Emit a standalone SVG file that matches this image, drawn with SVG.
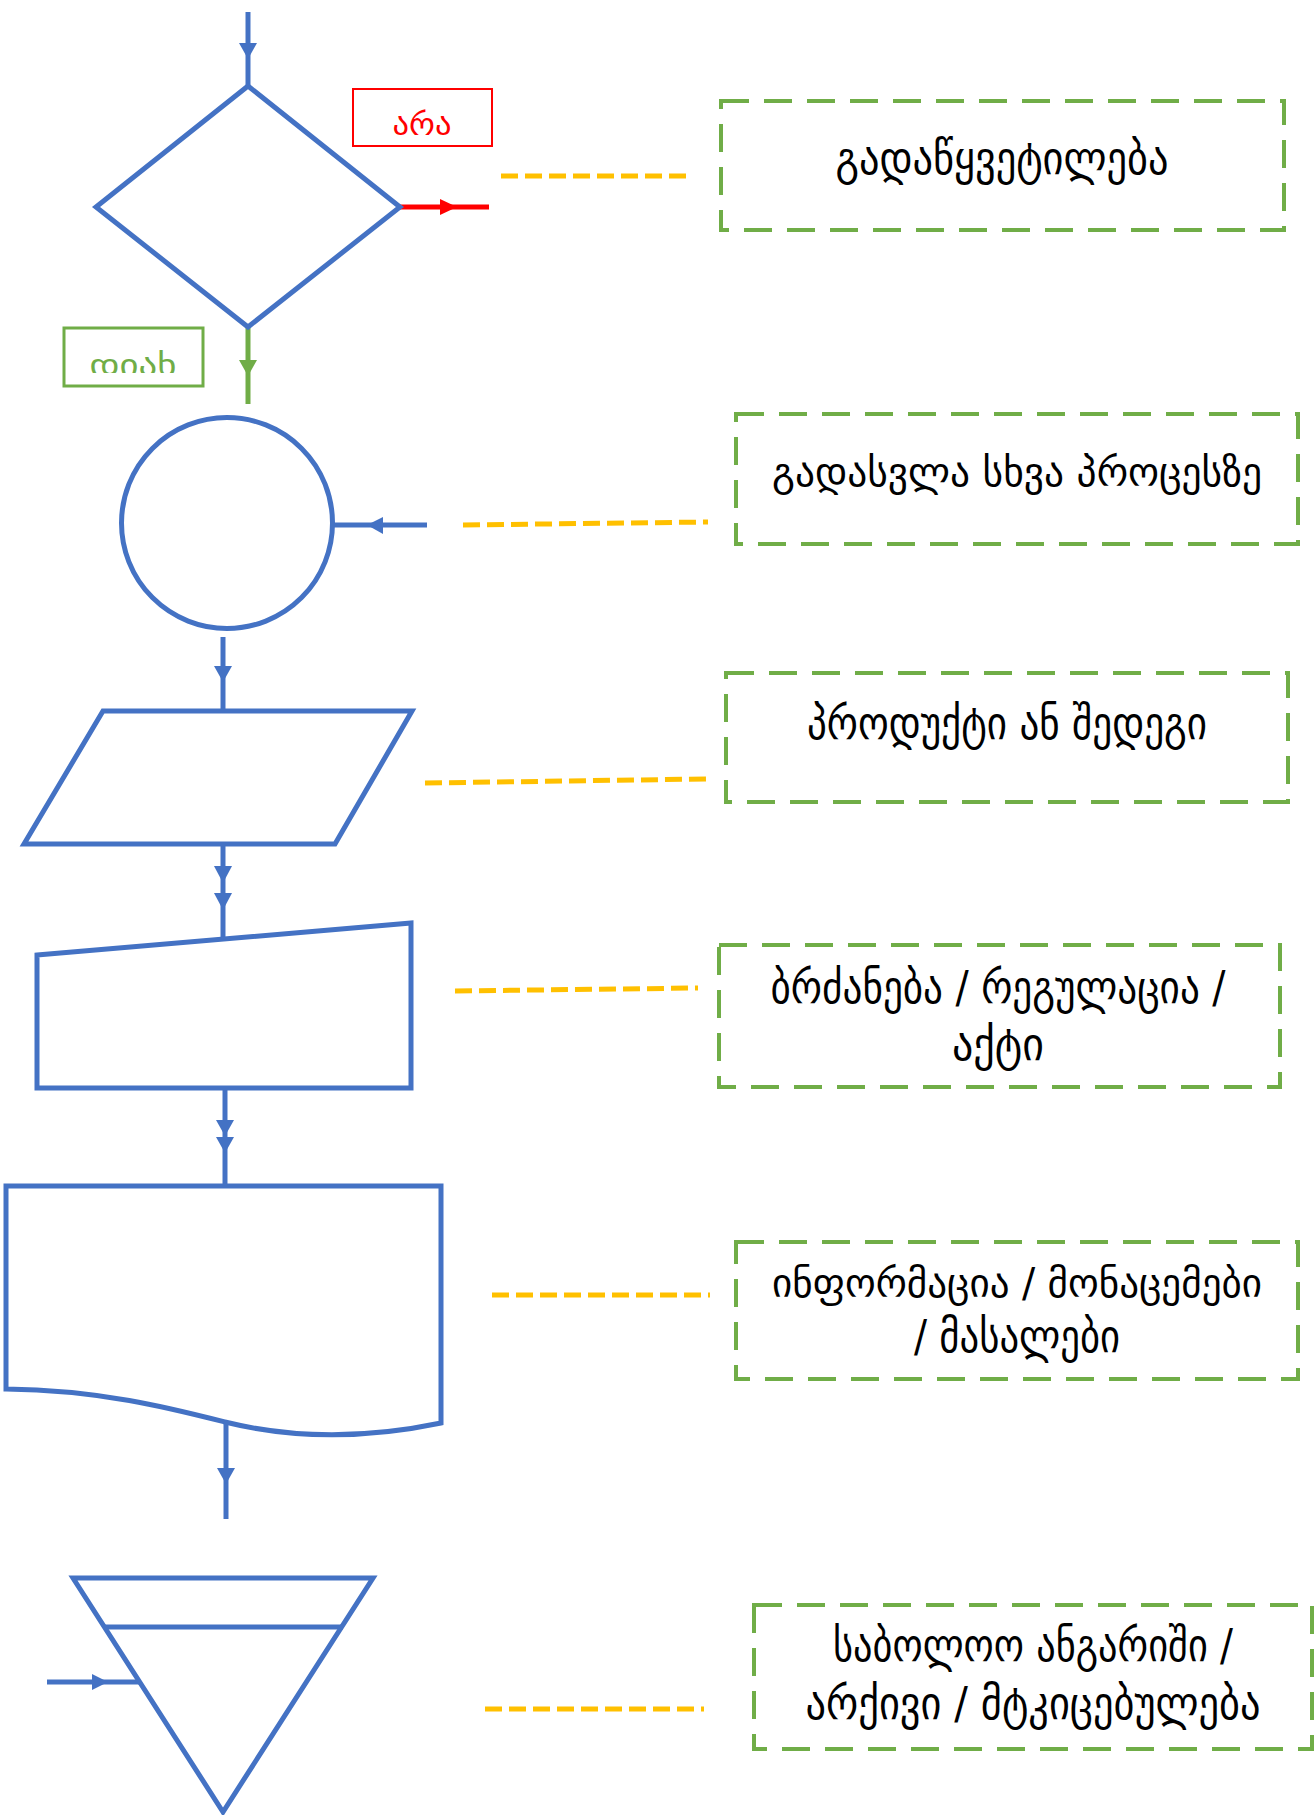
<svg xmlns="http://www.w3.org/2000/svg" width="1314" height="1815" viewBox="0 0 1314 1815">
<style>
.shape{fill:#FFFFFF;stroke:#4472C4;stroke-width:5;stroke-linejoin:miter}
.conn{stroke:#4472C4;stroke-width:5;fill:none}
.head{fill:#4472C4}
.note{fill:none;stroke:#70AD47;stroke-width:4;stroke-dasharray:28 15}
.lead{stroke:#FFC000;stroke-width:5;stroke-dasharray:17 7;fill:none}
.lbl{font-family:"DejaVu Sans","Noto Sans",sans-serif;font-size:45px;fill:#000000;text-anchor:middle}
.lbl.wide{font-size:40px}
.tag{font-family:"DejaVu Sans","Noto Sans",sans-serif;font-size:31px;text-anchor:middle}
</style>
<defs>
<clipPath id="yesclip"><rect x="66" y="330" width="135" height="43"/></clipPath>
</defs>
<rect width="1314" height="1815" fill="#FFFFFF"/>

<g id="connectors">
<line class="conn" x1="248" y1="12" x2="248" y2="86"/>
<polygon class="head" points="239,43 257,43 248,59"/>
<line x1="400" y1="207" x2="489" y2="207" stroke="#FF0000" stroke-width="5"/>
<polygon points="440,199 440,215 457,207" fill="#FF0000"/>
<line x1="248" y1="327" x2="248" y2="404" stroke="#70AD47" stroke-width="5"/>
<polygon points="239,360 257,360 248,376" fill="#70AD47"/>
<line class="conn" x1="427" y1="525" x2="333" y2="525"/>
<polygon class="head" points="383,517 383,534 367,525"/>
<line class="conn" x1="223" y1="637" x2="223" y2="711"/>
<polygon class="head" points="214,666 232,666 223,682"/>
<line class="conn" x1="223" y1="844" x2="223" y2="939"/>
<polygon class="head" points="214,866 232,866 223,883"/>
<polygon class="head" points="214,893 232,893 223,910"/>
<line class="conn" x1="225" y1="1088" x2="225" y2="1186"/>
<polygon class="head" points="216,1120 234,1120 225,1136"/>
<polygon class="head" points="216,1137 234,1137 225,1153"/>
<line class="conn" x1="226" y1="1424" x2="226" y2="1519"/>
<polygon class="head" points="217,1468 235,1468 226,1484"/>
<line class="conn" x1="47" y1="1682" x2="140" y2="1682"/>
<polygon class="head" points="92,1674 92,1690 108,1682"/>
<line class="lead" x1="501" y1="176" x2="689" y2="176"/>
<line class="lead" x1="463" y1="525" x2="708" y2="522"/>
<line class="lead" x1="425" y1="783" x2="706" y2="779"/>
<line class="lead" x1="455" y1="991" x2="698" y2="988"/>
<line class="lead" x1="492" y1="1295" x2="710" y2="1295"/>
<line class="lead" x1="485" y1="1709" x2="704" y2="1709"/>
</g>

<g id="decision">
<polygon class="shape" points="248,86 400,207 248,327 96,207"/>
</g>
<g id="label-no">
<rect x="353" y="89" width="139" height="57" fill="#FFFFFF" stroke="#FF0000" stroke-width="2"/>
<text class="tag" x="422" y="135" fill="#FF0000" textLength="59" lengthAdjust="spacingAndGlyphs">არა</text>
</g>
<g id="label-yes">
<rect x="64" y="328" width="139" height="58" fill="#FFFFFF" stroke="#70AD47" stroke-width="3"/>
<text class="tag" x="133" y="376" fill="#70AD47" textLength="87" lengthAdjust="spacingAndGlyphs" clip-path="url(#yesclip)">დიახ</text>
</g>
<g id="connector-circle">
<circle class="shape" cx="227" cy="523" r="105.5"/>
</g>
<g id="data">
<polygon class="shape" points="103,711 412,711 335,844 24,844"/>
</g>
<g id="manual-input">
<polygon class="shape" points="37,955 411,923 411,1088 37,1088"/>
</g>
<g id="document">
<path class="shape" d="M6 1186 H441 V1423 C360 1440 290 1438 225 1422 C170 1408 100 1390 6 1389 Z"/>
</g>
<g id="archive">
<polygon class="shape" points="73,1578 373,1578 223,1812"/>
<line class="conn" x1="104" y1="1627" x2="343" y2="1627"/>
</g>

<g id="note-decision">
<rect class="note" x="721" y="101" width="563" height="129"/>
<text class="lbl" x="1002" y="174" textLength="333" lengthAdjust="spacingAndGlyphs">გადაწყვეტილება</text>
</g>
<g id="note-connector">
<rect class="note" x="736" y="414" width="562" height="130"/>
<text class="lbl wide" x="1017" y="486" textLength="490" lengthAdjust="spacingAndGlyphs">გადასვლა სხვა პროცესზე</text>
</g>
<g id="note-data">
<rect class="note" x="726" y="673" width="562" height="129"/>
<text class="lbl" x="1007" y="739" textLength="400" lengthAdjust="spacingAndGlyphs">პროდუქტი ან შედეგი</text>
</g>
<g id="note-manual">
<rect class="note" x="719" y="945" width="561" height="142"/>
<text class="lbl" x="998" y="1003" textLength="455" lengthAdjust="spacingAndGlyphs">ბრძანება / რეგულაცია /</text>
<text class="lbl" x="998" y="1060" textLength="92" lengthAdjust="spacingAndGlyphs">აქტი</text>
</g>
<g id="note-document">
<rect class="note" x="736" y="1242" width="562" height="137"/>
<text class="lbl wide" x="1017" y="1297" textLength="490" lengthAdjust="spacingAndGlyphs">ინფორმაცია / მონაცემები</text>
<text class="lbl" x="1017" y="1352" textLength="206" lengthAdjust="spacingAndGlyphs">/ მასალები</text>
</g>
<g id="note-archive">
<rect class="note" x="754" y="1605" width="558" height="144"/>
<text class="lbl" x="1033" y="1661" textLength="400" lengthAdjust="spacingAndGlyphs">საბოლოო ანგარიში /</text>
<text class="lbl" x="1033" y="1719" textLength="455" lengthAdjust="spacingAndGlyphs">არქივი / მტკიცებულება</text>
</g>
</svg>
